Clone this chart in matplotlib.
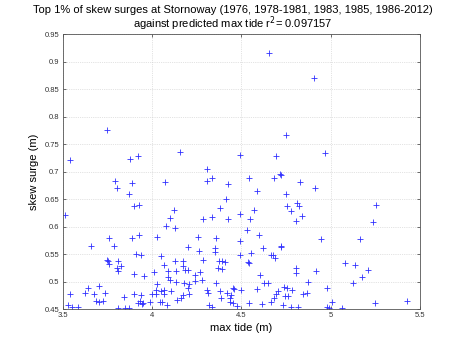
import matplotlib
matplotlib.use("Agg")
import matplotlib.pyplot as plt

plt.rcParams['font.family'] = ['Liberation Sans', 'DejaVu Sans']

title_line1 = "Top 1% of skew surges at Stornoway (1976, 1978-1981, 1983, 1985, 1986-2012)"
title_line2 = "against predicted max tide r$^2$= 0.097157"
xlabel = "max tide (m)"
ylabel = "skew surge (m)"

xticks = [3.5, 4, 4.5, 5, 5.5]
xtick_labels = ["3.5", "4", "4.5", "5", "5.5"]
yticks = [0.45, 0.5, 0.55, 0.6, 0.65, 0.7, 0.75, 0.8, 0.85, 0.9, 0.95]
ytick_labels = ["0.45", "0.5", "0.55", "0.6", "0.65", "0.7", "0.75", "0.8", "0.85", "0.9", "0.95"]

max_tide = [
    # high values
    3.542, 3.751, 3.879, 3.922, 4.157, 4.657, 4.750, 4.495, 4.693, 4.310,
    4.719, 4.909, 4.968, 3.794, 3.803, 3.872, 3.887, 4.073, 4.307, 4.338,
    4.428, 4.545, 4.590, 4.685, 4.721, 4.750, 4.829, 4.913, 4.413,
    # 3.5 - 4.0
    3.514, 3.658, 3.762, 3.790, 3.887, 3.930, 3.913, 3.937, 3.747, 3.756,
    3.762, 3.812, 3.826, 3.803, 3.812, 3.900, 3.958, 4.010, 3.641, 3.706,
    3.626, 3.678, 3.738, 3.542, 3.686, 3.704, 3.728, 3.846, 3.898, 3.939,
    3.999, 3.924, 3.934, 3.943, 3.952, 3.987, 3.533, 3.552, 3.585, 3.812,
    3.850, 3.874, 3.900, 3.926,
    # 4.0 - 4.5
    4.030, 4.051, 4.077, 4.101, 4.124, 4.131, 4.070, 4.129, 4.172, 4.176,
    4.133, 4.089, 4.101, 4.133, 4.029, 4.180, 4.210, 4.185, 4.204, 4.089,
    4.023, 4.051, 4.070, 4.107, 4.161, 4.176, 4.208, 4.023, 4.070, 4.045,
    4.083, 4.139, 4.204, 4.256, 4.265, 4.286, 4.338, 4.357, 4.353, 4.353,
    4.284, 4.377, 4.394, 4.372, 4.394, 4.242, 4.270, 4.240, 4.279, 4.359,
    4.204, 4.307, 4.316, 4.381, 4.418, 4.441, 4.385, 4.437, 4.321, 4.338,
    4.437, 4.452, 4.452, 4.460, 4.428, 4.383, 4.409, 4.497, 4.475, 4.055,
    # 4.5 - 5.0
    4.495, 4.551, 4.571, 4.530, 4.599, 4.495, 4.623, 4.721, 4.721, 4.553,
    4.495, 4.665, 4.676, 4.690, 4.538, 4.545, 4.605, 4.754, 4.778, 4.810,
    4.823, 4.838, 4.805, 4.805, 4.805, 4.627, 4.650, 4.586, 4.740, 4.758,
    4.786, 4.875, 4.870, 4.847, 4.707, 4.696, 4.683, 4.745, 4.760, 4.545,
    4.614, 4.665, 4.735, 4.778, 4.819, 4.944, 4.916, 4.978, 5.006, 4.978,
    4.993,
    # > 5.0
    5.252, 5.239, 5.164, 5.080, 5.136, 5.211, 5.175, 5.127, 5.065, 5.249,
    5.426,
]

skew_surge = [
    # high values
    0.722, 0.776, 0.724, 0.729, 0.736, 0.916, 0.767, 0.730, 0.728, 0.706,
    0.696, 0.870, 0.734, 0.683, 0.670, 0.660, 0.679, 0.682, 0.683, 0.688,
    0.677, 0.689, 0.666, 0.689, 0.694, 0.659, 0.682, 0.670, 0.650,
    # 3.5 - 4.0
    0.622, 0.566, 0.580, 0.566, 0.580, 0.585, 0.551, 0.548, 0.540, 0.537,
    0.533, 0.537, 0.529, 0.526, 0.520, 0.514, 0.511, 0.518, 0.489, 0.493,
    0.480, 0.477, 0.480, 0.477, 0.465, 0.463, 0.465, 0.472, 0.477, 0.476,
    0.477, 0.462, 0.465, 0.459, 0.462, 0.464, 0.458, 0.454, 0.454, 0.452,
    0.453, 0.453, 0.638, 0.640,
    # 4.0 - 4.5
    0.582, 0.547, 0.602, 0.616, 0.631, 0.597, 0.531, 0.537, 0.537, 0.528,
    0.520, 0.508, 0.503, 0.500, 0.496, 0.497, 0.496, 0.522, 0.522, 0.520,
    0.485, 0.484, 0.485, 0.483, 0.471, 0.476, 0.477, 0.477, 0.478, 0.464,
    0.458, 0.467, 0.564, 0.582, 0.556, 0.614, 0.617, 0.580, 0.561, 0.554,
    0.540, 0.538, 0.537, 0.526, 0.523, 0.512, 0.517, 0.502, 0.503, 0.497,
    0.489, 0.485, 0.479, 0.483, 0.479, 0.476, 0.470, 0.470, 0.457, 0.455,
    0.463, 0.461, 0.489, 0.487, 0.614, 0.635, 0.536, 0.485, 0.456, 0.464,
    # 4.5 - 5.0
    0.623, 0.614, 0.630, 0.594, 0.585, 0.574, 0.561, 0.566, 0.563, 0.552,
    0.549, 0.549, 0.548, 0.544, 0.536, 0.534, 0.512, 0.638, 0.628, 0.643,
    0.638, 0.619, 0.611, 0.526, 0.516, 0.497, 0.497, 0.487, 0.491, 0.489,
    0.486, 0.500, 0.479, 0.477, 0.483, 0.477, 0.471, 0.474, 0.475, 0.461,
    0.460, 0.464, 0.457, 0.455, 0.455, 0.577, 0.520, 0.489, 0.464, 0.455,
    0.453,
    # > 5.0
    0.640, 0.609, 0.577, 0.535, 0.531, 0.521, 0.509, 0.497, 0.453, 0.462,
    0.466,
]

fig = plt.figure(figsize=(4.65, 3.5), dpi=100)
ax = fig.add_axes([62.5 / 465, 1 - 309.3 / 350, (420 - 62.5) / 465, (309.3 - 34.3) / 350])

ax.plot(max_tide, skew_surge, linestyle='none', marker='+',
        color='#3030ff', markeredgecolor='#3030ff', markerfacecolor='#3030ff',
        markersize=4.2, markeredgewidth=0.6)

ax.set_xlim(3.5, 5.5)
ax.set_ylim(0.45, 0.95)
ax.set_xticks(xticks)
ax.set_xticklabels(xtick_labels)
ax.set_yticks(yticks)
ax.set_yticklabels(ytick_labels)
ax.tick_params(direction='in', length=2.5, width=0.5, labelsize=5.5, colors='#333333',
               top=True, right=True, pad=2)
ax.grid(True, linestyle=':', linewidth=0.5, color='#c8c8c8')
ax.set_axisbelow(True)
for s in ax.spines.values():
    s.set_linewidth(0.6)
    s.set_color('#555555')

ax.set_xlabel(xlabel, fontsize=8, labelpad=3)
ax.set_ylabel(ylabel, fontsize=8, labelpad=4)
fig.text(0.5, 1 - 10 / 350, title_line1, fontsize=8, ha='center', va='center')
fig.text(0.5, 1 - 24 / 350, title_line2, fontsize=8, ha='center', va='center')

fig.savefig("out.png", dpi=100, facecolor='white')
